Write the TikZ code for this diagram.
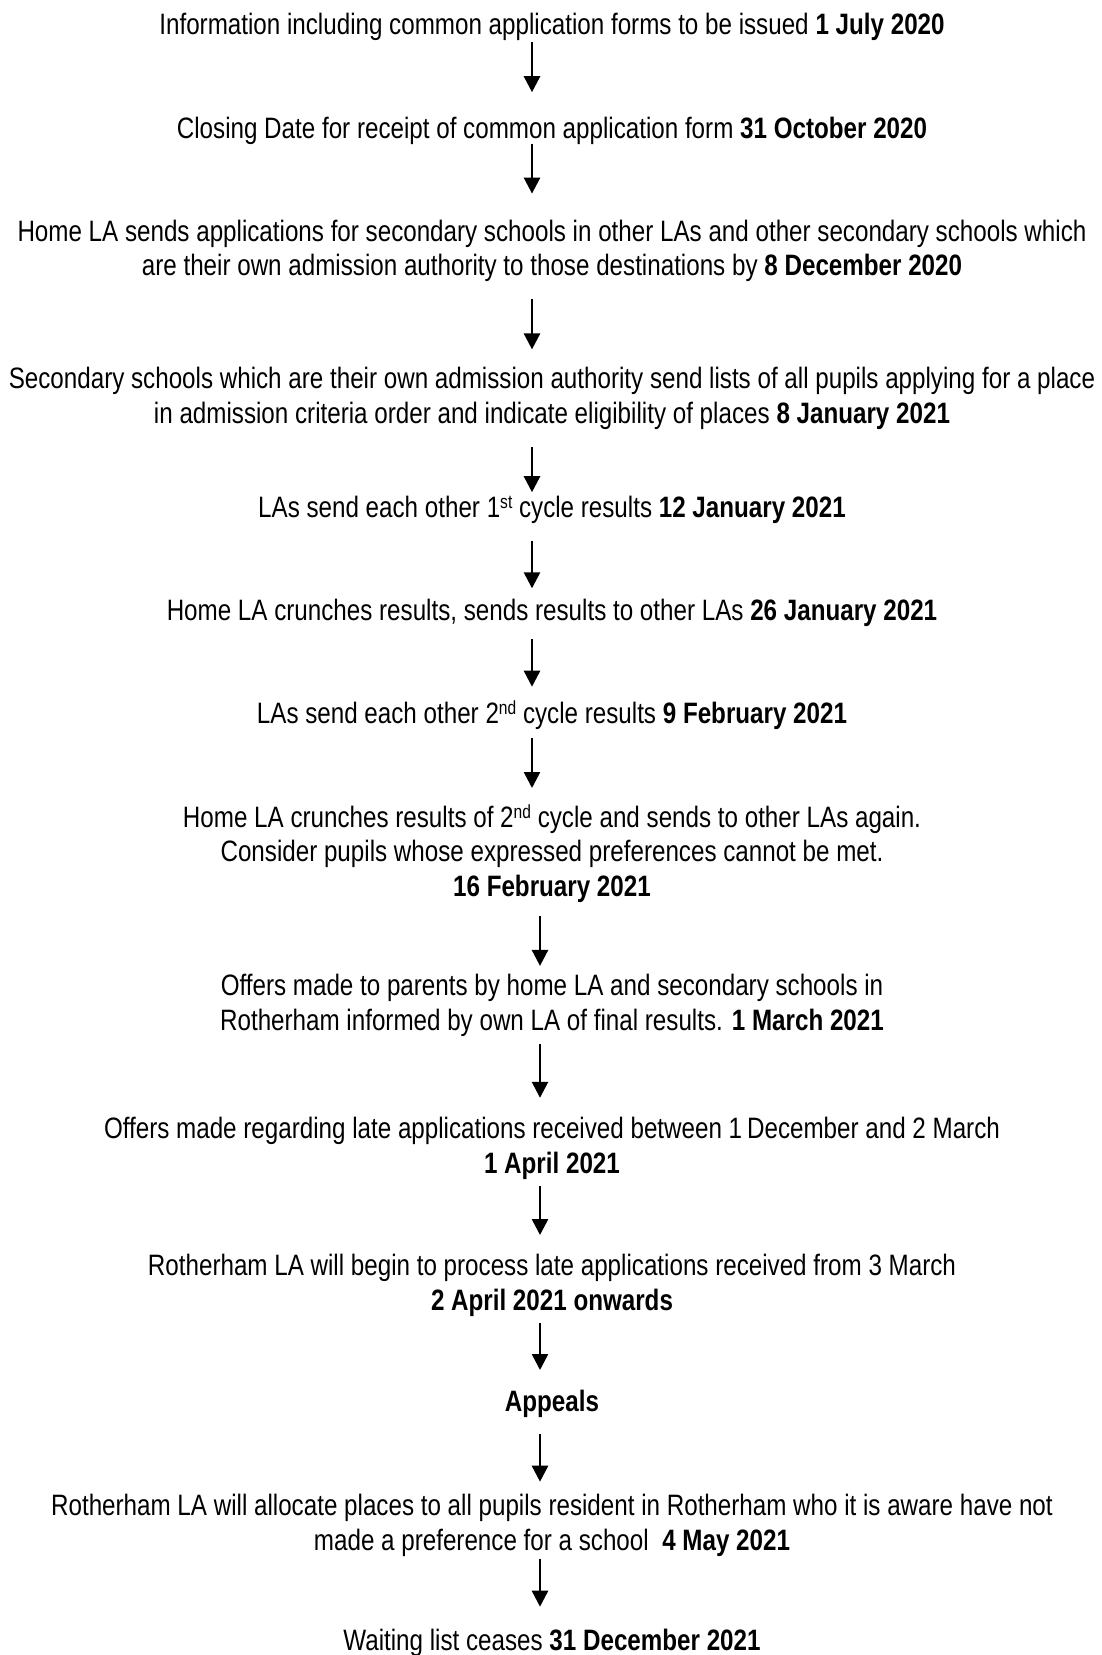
\documentclass[tikz,border=0pt]{standalone}
\usepackage{fontspec}
\setmainfont{Liberation Sans}[FakeStretch=0.82]
\usetikzlibrary{arrows.meta}
\newcommand{\ordsup}[1]{\raisebox{9pt}[0pt][0pt]{\fontsize{19}{19}\selectfont #1}}

\begin{document}
\begin{tikzpicture}[x=1pt,y=-1pt]

      \tikzset{stage/.style={inner sep=0pt, align=center, anchor=north, font=\fontsize{29.5}{34.8}\selectfont},
               flow/.style={-{Triangle[width=16pt,length=16pt]}, line width=2.6pt}}
      \useasboundingbox (0,0) rectangle (1102,1655);
%% Stages
      	\node[stage] (s1) at (552,12.7) {Information including common application forms to be issued \textbf{1 July 2020}};
      	\node[stage] (s2) at (552,117.2) {Closing Date for receipt of common application form \textbf{31 October 2020}};
      	\node[stage] (s3) at (552,219.6) {Home LA sends applications for secondary schools in other LAs and other secondary schools which\\are their own admission authority to those destinations by \textbf{8 December 2020}};
      	\node[stage] (s4) at (552,367.4) {Secondary schools which are their own admission authority send lists of all pupils applying for a place\\in admission criteria order and indicate eligibility of places \textbf{8 January 2021}};
      	\node[stage] (s5) at (552,496.2) {LAs send each other 1\ordsup{st} cycle results \textbf{12 January 2021}};
      	\node[stage] (s6) at (552,598.6) {Home LA crunches results, sends results to other LAs \textbf{26 January 2021}};
      	\node[stage] (s7) at (552,702) {LAs send each other 2\ordsup{nd} cycle results \textbf{9 February 2021}};
      	\node[stage] (s8) at (552,805.5) {Home LA crunches results of 2\ordsup{nd} cycle and sends to other LAs again.\\Consider pupils whose expressed preferences cannot be met.\\\textbf{16 February 2021}};
      	\node[stage] (s9) at (552,974.4) {Offers made to parents by home LA and secondary schools in\\Rotherham informed by own LA of final results. \textbf{1 March 2021}};
      	\node[stage] (s10) at (552,1116.9) {Offers made regarding late applications received between 1\,December and 2 March\\\textbf{1 April 2021}};
      	\node[stage] (s11) at (552,1254.1) {Rotherham LA will begin to process late applications received from 3 March\\\textbf{2 April 2021 onwards}};
      	\node[stage] (s12) at (552,1390.3) {\textbf{Appeals}};
      	\node[stage] (s13) at (552,1493.7) {Rotherham LA will allocate places to all pupils resident in Rotherham who it is aware have not\\made a preference for a school\ \ \textbf{4 May 2021}};
      	\node[stage] (s14) at (552,1628.8) {Waiting list ceases \textbf{31 December 2021}};
%Arrows
      	\coordinate (colA) at (532,0);
      	\coordinate (colB) at (540,0);
		\draw[flow, shorten <=1.8pt, shorten >=25pt] (s1.south -| colA) -- (s2.north -| colA);
		\draw[flow, shorten <=-1.4pt, shorten >=26pt] (s2.south -| colA) -- (s3.north -| colA);
		\draw[flow, shorten <=17pt, shorten >=18pt] (s3.south -| colA) -- (s4.north -| colA);
		\draw[flow, shorten <=17pt, shorten >=4pt] (s4.south -| colA) -- (s5.north -| colA);
		\draw[flow, shorten <=16.6pt, shorten >=10.3pt] (s5.south -| colA) -- (s6.north -| colA);
		\draw[flow, shorten <=12.5pt, shorten >=15.3pt] (s6.south -| colA) -- (s7.north -| colA);
		\draw[flow, shorten <=7.8pt, shorten >=17.5pt] (s7.south -| colA) -- (s8.north -| colA);
		\draw[flow, shorten <=12.9pt, shorten >=8.5pt] (s8.south -| colB) -- (s9.north -| colB);
		\draw[flow, shorten <=6.5pt, shorten >=19.1pt] (s9.south -| colB) -- (s10.north -| colB);
		\draw[flow, shorten <=6.5pt, shorten >=19.1pt] (s10.south -| colB) -- (s11.north -| colB);
		\draw[flow, shorten <=6.6pt, shorten >=20.3pt] (s11.south -| colB) -- (s12.north -| colB);
		\draw[flow, shorten <=15.8pt, shorten >=12pt] (s12.south -| colB) -- (s13.north -| colB);
		\draw[flow, shorten <=2.5pt, shorten >=22.1pt] (s13.south -| colB) -- (s14.north -| colB);

	\end{tikzpicture}
\end{document}
